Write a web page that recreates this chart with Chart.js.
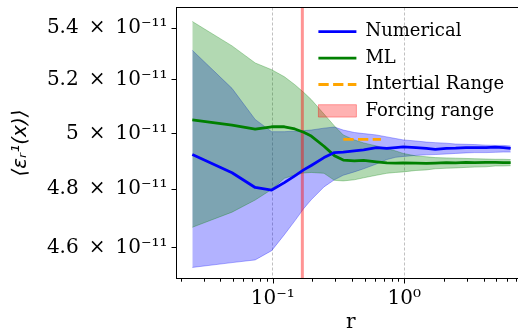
<!DOCTYPE html>
<html><head><meta charset="utf-8">
<script src="https://cdn.jsdelivr.net/npm/chart.js@4.4.1/dist/chart.umd.min.js"></script>
<style>
html,body{margin:0;padding:0;overflow:hidden;background:#fff;width:518px;height:335px}
#wrap{width:525px;height:335px;position:relative}
</style></head>
<body><div id="wrap"><canvas id="c" width="525" height="335"></canvas></div>
<script>
const UNIT = 1e-11;
const r = [0.0245,0.0491,0.0736,0.0982,0.1227,0.1473,0.1718,0.1963,0.2454,0.2945,0.3436,0.4172,0.4909,0.6136,0.7363,0.8590,0.9817,1.2272,1.4726,1.7181,2.0862,2.4544,2.9452,3.4361,4.1724,4.9087,5.6450,6.4303];
const numerical = [4.923,4.858,4.806,4.797,4.823,4.847,4.868,4.884,4.912,4.930,4.932,4.936,4.940,4.948,4.945,4.948,4.951,4.948,4.945,4.942,4.945,4.946,4.948,4.948,4.948,4.950,4.948,4.945];
const numericalUpper = [5.313,5.167,5.051,5.006,5.006,5.008,5.010,5.012,5.019,5.023,5.012,5.003,4.999,4.994,4.987,4.981,4.976,4.972,4.968,4.966,4.964,4.961,4.960,4.959,4.957,4.956,4.956,4.954];
const numericalLower = [4.533,4.549,4.558,4.589,4.643,4.690,4.732,4.763,4.808,4.833,4.849,4.861,4.872,4.889,4.905,4.913,4.916,4.920,4.922,4.923,4.925,4.927,4.929,4.930,4.930,4.931,4.932,4.932];
const ml = [5.049,5.030,5.015,5.024,5.024,5.016,5.004,4.990,4.953,4.919,4.903,4.900,4.902,4.897,4.893,4.892,4.893,4.892,4.891,4.892,4.894,4.893,4.895,4.894,4.895,4.895,4.894,4.894];
const mlUpper = [5.426,5.330,5.264,5.238,5.211,5.181,5.152,5.125,5.071,5.027,4.994,4.976,4.965,4.954,4.945,4.936,4.927,4.918,4.915,4.912,4.911,4.910,4.909,4.908,4.907,4.906,4.906,4.905];
const mlLower = [4.668,4.720,4.762,4.799,4.838,4.850,4.857,4.859,4.856,4.831,4.829,4.833,4.840,4.849,4.856,4.859,4.861,4.866,4.868,4.872,4.874,4.875,4.877,4.878,4.879,4.882,4.882,4.883];
const inertialR = [0.344, 0.665];
const inertialLevel = [4.978, 4.978];
const forcingR = [0.168, 0.168];
const xLimits = [0.01858, 8.264];
const yLimits = [4.4965, 5.4817];
const xTickValues = [0.02,0.03,0.04,0.05,0.06,0.07,0.08,0.09,0.1,0.2,0.3,0.4,0.5,0.6,0.7,0.8,0.9,1,2,3,4,5,6,7,8];
const xMajorTicks = [0.1, 1];
const xTickLabels = ['10\u207B\u00B9', '10\u2070'];
const yTickValues = [4.6, 4.8, 5.0, 5.2, 5.4];
const yTickLabels = ['4.6\u2002\u00D7\u200210\u207B\u00B9\u00B9','4.8\u2002\u00D7\u200210\u207B\u00B9\u00B9','5\u2002\u00D7\u200210\u207B\u00B9\u00B9','5.2\u2002\u00D7\u200210\u207B\u00B9\u00B9','5.4\u2002\u00D7\u200210\u207B\u00B9\u00B9'];
const legendLabels = ['Numerical', 'ML', 'Intertial Range', 'Forcing range'];
const xTitle = 'r';
const yTitle = '\u27E8\u03B5\u1D63\u00B9(x)\u27E9';

const pts = (xs, ys) => xs.map((x, i) => ({x: x, y: ys[i] * UNIT}));

const BLUE = '#0000ff', GREEN = '#008000', ORANGE = '#ffa500';
const legendStyles = [
  {fillStyle: BLUE, strokeStyle: BLUE, lineWidth: 2.8, lineDash: [], pointStyle: 'line'},
  {fillStyle: GREEN, strokeStyle: GREEN, lineWidth: 2.8, lineDash: [], pointStyle: 'line'},
  {fillStyle: ORANGE, strokeStyle: ORANGE, lineWidth: 2.8, lineDash: [10.3, 4.4], pointStyle: 'line'},
  {fillStyle: 'rgba(255,0,0,0.3)', strokeStyle: 'rgba(255,0,0,0.35)', lineWidth: 1, lineDash: [], pointStyle: 'rect'}
];

const framePlugin = {
  id: 'frame',
  beforeLayout(chart) {
    const lg = chart.legend;
    if (lg && !lg._zPatched) {
      lg._layers = function () { return [{z: 1, draw: (ca) => lg.draw(ca)}]; };
      lg._zPatched = true;
    }
  },
  afterLayout(chart) {
    const lg = chart.legend;
    if (!lg) return;
    const w = lg.width;
    lg.left = 310; lg.top = 14.3; lg.right = lg.left + w; lg.bottom = lg.top + 250;
  },
  afterDraw(chart) {
    const {ctx, chartArea: a, scales: {x}} = chart;
    ctx.save();
    ctx.strokeStyle = '#000';
    ctx.lineWidth = 1;
    ctx.setLineDash([]);
    ctx.strokeRect(a.left, a.top, a.right - a.left, a.bottom - a.top);
    x.ticks.forEach(t => {
      const px = Math.round(x.getPixelForValue(t.value)) + 0.5;
      const len = t.major ? 5 : 3.2;
      ctx.beginPath();
      ctx.moveTo(px, a.bottom);
      ctx.lineTo(px, a.bottom + len);
      ctx.stroke();
    });
    ctx.restore();
  }
};

const noPad = (s) => { s.paddingTop = 0; s.paddingBottom = 0; s.paddingLeft = 0; s.paddingRight = 0; };

Chart.defaults.color = '#000';

new Chart(document.getElementById('c'), {
  type: 'line',
  data: {
    datasets: [
      {label: legendLabels[0], data: pts(r, numerical), borderColor: BLUE, borderWidth: 2.8, pointRadius: 0, fill: false, order: 0, borderJoinStyle: 'round'},
      {label: legendLabels[1], data: pts(r, ml), borderColor: GREEN, borderWidth: 2.8, pointRadius: 0, fill: false, order: 1, borderJoinStyle: 'round'},
      {label: legendLabels[2], data: pts(inertialR, inertialLevel), borderColor: ORANGE, borderWidth: 2.8, borderDash: [10.3, 4.4], pointRadius: 0, fill: false, order: 2},
      {label: legendLabels[3], data: pts(forcingR, yLimits), borderColor: 'rgba(255,0,0,0.42)', borderWidth: 3, pointRadius: 0, fill: false, order: 3},
      {label: 'ML band upper', data: pts(r, mlUpper), borderColor: 'rgba(0,128,0,0.3)', borderWidth: 1, backgroundColor: 'rgba(0,128,0,0.3)', pointRadius: 0, fill: '+1', order: 4},
      {label: 'ML band lower', data: pts(r, mlLower), borderColor: 'rgba(0,128,0,0.3)', borderWidth: 1, pointRadius: 0, fill: false, order: 5},
      {label: 'Numerical band upper', data: pts(r, numericalUpper), borderColor: 'rgba(0,0,255,0.3)', borderWidth: 1, backgroundColor: 'rgba(0,0,255,0.3)', pointRadius: 0, fill: '+1', order: 6},
      {label: 'Numerical band lower', data: pts(r, numericalLower), borderColor: 'rgba(0,0,255,0.3)', borderWidth: 1, pointRadius: 0, fill: false, order: 7}
    ]
  },
  options: {
    responsive: false,
    animation: false,
    devicePixelRatio: 1,
    layout: {padding: {top: 7.5, right: 0, bottom: 0, left: 0}},
    plugins: {
      tooltip: {enabled: false},
      legend: {
        position: 'chartArea',
        align: 'start',
        labels: {
          font: {family: 'DejaVu Serif', size: 18},
          color: '#000',
          usePointStyle: true,
          pointStyleWidth: 38,
          boxHeight: 12.4,
          padding: 8.4,
          generateLabels: () => legendLabels.map((text, i) => Object.assign({text: text, hidden: false, datasetIndex: i, fontColor: '#000'}, legendStyles[i]))
        }
      }
    },
    scales: {
      x: {
        type: 'logarithmic',
        min: xLimits[0], max: xLimits[1],
        afterBuildTicks: (s) => { s.ticks = xTickValues.map(v => ({value: v, major: xMajorTicks.includes(v)})); },
        afterFit: (s) => { s.height = 56.5; noPad(s); },
        ticks: {
          autoSkip: false, maxRotation: 0, padding: 8,
          font: {family: 'DejaVu Serif', size: 20},
          color: '#000',
          callback: (v) => { const i = xMajorTicks.indexOf(v); return i >= 0 ? xTickLabels[i] : ''; }
        },
        grid: {
          drawTicks: false,
          drawOnChartArea: true,
          lineWidth: 0.8,
          color: (c) => (c.tick && c.tick.major) ? 'rgba(150,150,150,0.75)' : 'rgba(0,0,0,0)'
        },
        border: {display: false, dash: [3, 2]},
        title: {display: true, text: xTitle, font: {family: 'DejaVu Serif', size: 20}, color: '#000', padding: {top: 0, bottom: 0}}
      },
      y: {
        type: 'logarithmic',
        min: yLimits[0] * UNIT, max: yLimits[1] * UNIT,
        afterBuildTicks: (s) => { s.ticks = yTickValues.map(v => ({value: v * UNIT})); },
        afterFit: (s) => { s.width = 176.5; noPad(s); },
        ticks: {
          autoSkip: false, padding: 4,
          font: {family: 'DejaVu Serif', size: 20},
          color: '#000',
          callback: (v) => { const i = yTickValues.findIndex(t => Math.abs(t * UNIT - v) < 1e-15); return i >= 0 ? yTickLabels[i] : ''; }
        },
        grid: {drawOnChartArea: false, drawTicks: true, tickLength: 5, tickColor: '#000', tickWidth: 1},
        border: {display: false},
        title: {display: true, text: yTitle, font: {family: 'DejaVu Sans', size: 20, style: 'italic'}, color: '#000', padding: {top: 9, bottom: 0}}
      }
    }
  },
  plugins: [framePlugin]
});
</script>
</body></html>
